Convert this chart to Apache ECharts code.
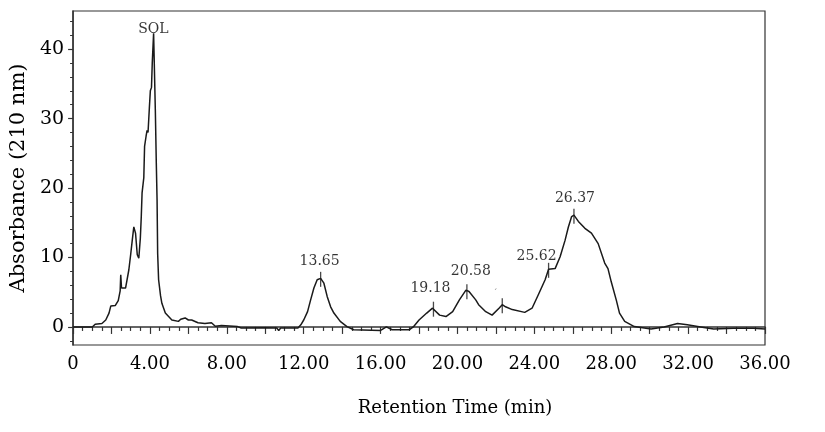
<!DOCTYPE html>
<html>
<head>
<meta charset="utf-8">
<title>Chromatogram</title>
<script src="https://cdn.jsdelivr.net/npm/echarts@6/dist/echarts.min.js"></script>
<style>
  html, body { margin: 0; padding: 0; background: #fff; }
  #main { width: 825px; height: 432px; }
</style>
</head>
<body>
<div id="main"></div>
<script>
// retention time (min) / absorbance
const times = [
  0, 1.0, 1.1, 1.15, 1.5, 1.7, 1.87, 1.96, 2.2, 2.35, 2.45, 2.48, 2.52, 2.6, 2.73,
  2.9, 3.0, 3.08, 3.16, 3.22, 3.25, 3.34, 3.42, 3.5, 3.55, 3.59, 3.68, 3.72, 3.8,
  3.85, 3.9, 3.97, 4.02, 4.08, 4.12, 4.19, 4.23, 4.28, 4.33, 4.37, 4.4, 4.45, 4.55,
  4.62, 4.8, 5.14, 5.48, 5.6, 5.83, 6.0, 6.17, 6.5, 6.86, 7.2, 7.4, 7.72, 8.56,
  8.75, 9.95, 10.6, 10.7, 10.8, 11.7, 11.85, 12.0, 12.2, 12.36, 12.53, 12.7, 12.88,
  13.05, 13.22, 13.4, 13.57, 13.9, 14.25, 14.6, 16.0, 16.3, 16.6, 17.5, 17.7, 18.0,
  18.4, 18.7, 18.75, 19.07, 19.4, 19.75, 20.1, 20.44, 20.6, 20.95, 21.1, 21.47,
  21.8, 22.16, 22.33, 22.5, 22.85, 23.5, 23.88, 24.2, 24.56, 24.74, 25.08, 25.34,
  25.6, 25.77, 25.94, 26.06, 26.29, 26.63, 26.97, 27.32, 27.66, 27.83, 28.0, 28.26,
  28.43, 28.7, 29.2, 30.07, 30.75, 31.45, 31.96, 32.65, 33.33, 34.36, 35.4, 36.0
];
const absorbance = [
  0, 0, 0.2, 0.4, 0.5, 1.0, 2.0, 3.0, 3.1, 3.8, 5.2, 7.5, 5.6, 5.8, 5.6,
  8.2, 10.5, 12.5, 14.4, 13.8, 13.5, 10.4, 9.9, 12.8, 16.0, 19.3, 21.5, 26.0, 27.5,
  28.3, 28.0, 31.6, 34.0, 34.5, 38.0, 42.3, 42.5, 31.2, 23.6, 18.3, 10.6, 6.8, 4.5,
  3.4, 2.0, 1.0, 0.8, 1.1, 1.3, 1.0, 1.0, 0.6, 0.5, 0.6, 0.1, 0.2, 0.05,
  -0.15, -0.1, -0.15, -0.5, -0.15, -0.15, 0.3, 1.0, 2.2, 3.9, 5.6, 6.8, 7.0,
  6.3, 4.4, 2.9, 2.0, 0.8, 0.05, -0.4, -0.5, 0, -0.4, -0.4, 0, 1.0,
  2.0, 2.7, 2.7, 1.7, 1.5, 2.2, 3.9, 5.3, 5.1, 3.9, 3.2, 2.2,
  1.7, 2.7, 3.2, 2.9, 2.5, 2.1, 2.7, 4.6, 6.8, 8.3, 8.4, 10.1,
  12.5, 14.4, 15.9, 16.1, 15.2, 14.2, 13.5, 12.0, 9.2, 8.4, 6.5, 3.9,
  2.0, 0.8, 0.05, -0.3, 0, 0.5, 0.3, 0, -0.3, -0.2, -0.2, -0.3
];

// peak annotations
const peakLabels = ["SOL", "13.65", "19.18", "20.58", "ˊ", "25.62", "26.37"];
const peakTimes = [4.23, 12.88, 18.75, 20.49, 22.33, 24.74, 26.06];
const peakValues = [42.5, 7.0, 2.7, 5.2, 3.2, 8.3, 16.1];

// axis ticks
const yLabelValues = [0, 10, 20, 30, 40];
const yMinorValues = [-2, 2, 4, 6, 8, 12, 14, 16, 18, 22, 24, 26, 28, 32, 34, 36, 38, 42, 44];

// label placement (px), kept apart from the data
const labelOffsets = [[-1, 8], [-1, 1], [-3, -2], [4, -2], [-7, 4], [-12, 5], [1, 1]];
const tickShown = [false, true, true, true, true, true, true];

const FONT = "DejaVu Serif";
const INK = "#000";
const AXIS = "#333";

const chart = echarts.init(document.getElementById("main"), null, { renderer: "canvas" });

const peakData = peakLabels.map((name, i) => ({
  value: [peakTimes[i], peakValues[i]],
  name: name,
  symbolSize: tickShown[i] ? [1.3, 15] : 0,
  label: {
    offset: labelOffsets[i],
    fontSize: name === "ˊ" ? 9 : 14,
    color: name === "ˊ" ? "#555" : INK,
  },
}));

chart.setOption({
  animation: false,
  backgroundColor: "#fff",
  grid: {
    left: 67,
    right: 60,
    top: 11,
    bottom: 87,
    show: true,
    borderColor: AXIS,
    borderWidth: 1.2,
  },
  xAxis: {
    type: "value",
    min: 0,
    max: 36,
    interval: 2,
    name: "Retention Time (min)",
    nameLocation: "middle",
    nameGap: 54,
    nameTextStyle: {
      fontFamily: FONT,
      fontSize: 18,
      color: INK,
      padding: [0, 0, 0, 72],
    },
    axisLine: { show: true, lineStyle: { color: AXIS, width: 1.5 } },
    axisTick: { show: true, length: 7, lineStyle: { color: AXIS, width: 1.2 } },
    minorTick: { show: true, splitNumber: 4, length: 4, lineStyle: { color: AXIS, width: 1.2 } },
    axisLabel: {
      fontFamily: FONT,
      fontSize: 18,
      color: INK,
      margin: 10,
      formatter: function (v) {
        if (v % 4 !== 0) return "";
        return v === 0 ? "0" : v.toFixed(2);
      },
    },
    splitLine: { show: false },
    minorSplitLine: { show: false },
  },
  yAxis: [
    {
      type: "value",
      min: -2.6,
      max: 45.5,
      position: "left",
      name: "Absorbance (210 nm)",
      nameLocation: "middle",
      nameGap: 42,
      nameTextStyle: { fontFamily: FONT, fontSize: 21, color: INK },
      axisLine: { show: true, lineStyle: { color: AXIS, width: 1.5 } },
      axisTick: {
        show: true,
        length: 5,
        customValues: yLabelValues,
        lineStyle: { color: AXIS, width: 1.2 },
      },
      axisLabel: {
        fontFamily: FONT,
        fontSize: 19,
        color: INK,
        margin: 9,
        customValues: yLabelValues,
      },
      splitLine: { show: false },
    },
    {
      // minor ticks every 2 units
      type: "value",
      min: -2.6,
      max: 45.5,
      position: "left",
      axisLine: { show: false },
      axisTick: {
        show: true,
        length: 3,
        customValues: yMinorValues,
        lineStyle: { color: AXIS, width: 1 },
      },
      axisLabel: { show: false },
      splitLine: { show: false },
    },
  ],
  series: [
    {
      type: "line",
      data: times.map((t, i) => [t, absorbance[i]]),
      showSymbol: false,
      symbol: "none",
      smooth: false,
      lineStyle: { color: "#1a1a1a", width: 1.5 },
      silent: true,
      z: 3,
    },
    {
      type: "scatter",
      data: peakData,
      symbol: "rect",
      symbolOffset: [0, 1],
      itemStyle: { color: "#1a1a1a" },
      label: {
        show: true,
        position: "top",
        distance: 4,
        fontFamily: FONT,
        color: INK,
        textBorderWidth: 0,
        formatter: function (p) {
          return p.name;
        },
      },
      silent: true,
      z: 4,
    },
  ],
});
</script>
</body>
</html>
